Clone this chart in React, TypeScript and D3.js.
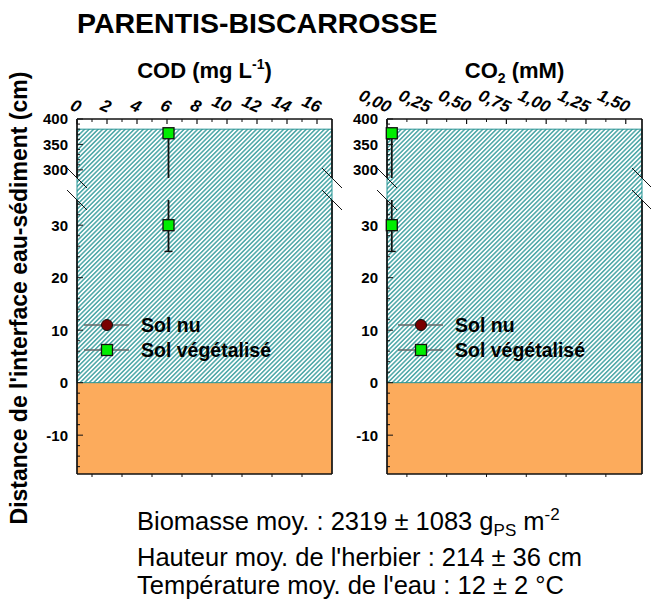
import React from "react";
import * as d3 from "d3";

// ---------- data ----------
const depths = [372, 30]; // cm above sediment
const codSolVeg = [6.1, 6.1];
const codSolNu = [6.1, 6.1];
const co2SolVeg = [0.03, 0.03];
const co2SolNu = [0.03, 0.03];
const errMinus = [100, 5];
const errPlus = [0, 5];
const waterTop = 380;
const codTicks = [0, 2, 4, 6, 8, 10, 12, 14, 16];
const codMinor = [1, 3, 5, 7, 9, 11, 13, 15];
const co2Ticks = [0, 0.25, 0.5, 0.75, 1.0, 1.25, 1.5];
const co2Minor = [0.125, 0.375, 0.625, 0.875, 1.125, 1.375];
const yLowerMajor = [-10, 0, 10, 20, 30];
const yUpperMajor = [300, 350, 400];
const legendLabels = ["Sol nu", "Sol végétalisé"];

const W = 651, H = 606;
const TOP = 119, BOT = 474;
const FONT = "'Liberation Sans', Arial, Helvetica, sans-serif";
const TEAL = "#259393";
const ORANGE = "#fcab5c";

const yUpper = d3.scaleLinear().domain([284, 400]).range([178, 119]);
const yLower = d3.scaleLinear().domain([-17.4, 34.8]).range([474, 200]);
const yPos = (v: number) => (v >= yUpper.domain()[0] ? yUpper(v) : yLower(v));

const xCOD = d3.scaleLinear().domain([0, 17]).range([77, 332]);
const xCO2 = d3.scaleLinear().domain([0, 1.602]).range([387, 642]);

const fmtComma = (d: number) => d3.format(".2f")(d).replace(".", ",");

type Panel = {
  x: d3.ScaleLinear<number, number>;
  ticks: number[];
  minor: number[];
  fmt: (d: number) => string;
  veg: number[];
  nu: number[];
  legendX: number;
  title: React.ReactNode;
};

const panels: Panel[] = [
  {
    x: xCOD, ticks: codTicks, minor: codMinor, fmt: (d) => String(d),
    veg: codSolVeg, nu: codSolNu, legendX: 107,
    title: (
      <>
        COD (mg L<tspan dy={-9} fontSize={14}>-1</tspan><tspan dy={9}>)</tspan>
      </>
    ),
  },
  {
    x: xCO2, ticks: co2Ticks, minor: co2Minor, fmt: fmtComma,
    veg: co2SolVeg, nu: co2SolNu, legendX: 421,
    title: (
      <>
        CO<tspan dy={5} fontSize={14}>2</tspan><tspan dy={-5}> (mM)</tspan>
      </>
    ),
  },
];

function range(a: number, b: number, s: number) {
  const out: number[] = [];
  for (let v = a; v <= b + 1e-9; v += s) out.push(v);
  return out;
}

function ErrorBars({ x, v, em, ep }: { x: number; v: number; em: number; ep: number }) {
  const segs = [yUpper, yLower];
  const out: React.ReactNode[] = [];
  segs.forEach((s, i) => {
    const [d0, d1] = s.domain();
    const lo = Math.max(v - em, d0);
    const hi = Math.min(v + ep, d1);
    if (hi <= lo) return;
    out.push(<line key={"l" + i} x1={x} x2={x} y1={s(lo)} y2={s(hi)} stroke="#111" strokeWidth={1.8} />);
    if (em > 0 && v - em > d0 && v - em < d1)
      out.push(<line key={"c1" + i} x1={x - 4} x2={x + 4} y1={s(v - em)} y2={s(v - em)} stroke="#111" strokeWidth={1.4} />);
    if (ep > 0 && v + ep < d1 && v + ep > d0)
      out.push(<line key={"c2" + i} x1={x - 4} x2={x + 4} y1={s(v + ep)} y2={s(v + ep)} stroke="#111" strokeWidth={1.4} />);
  });
  return <g>{out}</g>;
}

function PanelView({ p }: { p: Panel }) {
  const [x0, x1] = p.x.range();
  const upTop = yUpper.range()[1];
  const upBot = yUpper.range()[0];
  const loTop = yLower.range()[1];
  const cx = (x0 + x1) / 2;
  const lowerMinor = range(-16, 34, 2);
  const upperMinor = range(290, 400, 10);
  return (
    <g>
      <text x={cx} y={78} textAnchor="middle" fontWeight="bold" fontSize={22} fontFamily={FONT}>
        {p.title}
      </text>
      <rect x={x0} y={yLower(0)} width={x1 - x0} height={BOT - yLower(0)} fill={ORANGE} />
      <rect x={x0} y={yPos(waterTop)} width={x1 - x0} height={yLower(0) - yPos(waterTop)} fill="url(#hatch)" stroke={TEAL} strokeWidth={1} />
      <line x1={x0} x2={x1} y1={TOP} y2={TOP} stroke="#111" strokeWidth={1.7} />
      <line x1={x0} x2={x1} y1={BOT} y2={BOT} stroke="#111" strokeWidth={1.7} />
      {[x0, x1].map((xx, i) => (
        <g key={i}>
          <line x1={xx} x2={xx} y1={upTop} y2={upBot} stroke="#111" strokeWidth={1.7} />
          <line x1={xx} x2={xx} y1={loTop} y2={BOT} stroke="#111" strokeWidth={1.7} />
          <line x1={xx - 10} x2={xx + 10} y1={upBot - 10} y2={upBot + 10} stroke="#111" strokeWidth={1} />
          <line x1={xx - 10} x2={xx + 10} y1={loTop - 10} y2={loTop + 10} stroke="#111" strokeWidth={1} />
        </g>
      ))}
      {p.ticks.map((t) => (
        <g key={"t" + t}>
          <line x1={p.x(t)} x2={p.x(t)} y1={TOP} y2={TOP + 5} stroke="#111" strokeWidth={1.2} />
          <text
            transform={`translate(${p.x(t) + 1},${TOP - 6}) rotate(24)`}
            textAnchor="end" fontSize={17} fontWeight="bold" fontStyle="italic" fontFamily={FONT}
          >
            {p.fmt(t)}
          </text>
        </g>
      ))}
      {p.minor.map((t) => (
        <g key={"m" + t}>
          <line x1={p.x(t)} x2={p.x(t)} y1={TOP} y2={TOP + 3} stroke="#111" strokeWidth={1} />
          <line x1={p.x(t)} x2={p.x(t)} y1={BOT} y2={BOT + 3} stroke="#111" strokeWidth={1} />
        </g>
      ))}
      {lowerMinor.map((t) => (
        <line key={"ly" + t} x1={x0} x2={x0 + (t % 10 === 0 ? 6 : 3)} y1={yLower(t)} y2={yLower(t)} stroke="#111" strokeWidth={1} />
      ))}
      {upperMinor.map((t) => (
        <line key={"uy" + t} x1={x0} x2={x0 + (t % 50 === 0 ? 6 : 3)} y1={yUpper(t)} y2={yUpper(t)} stroke="#111" strokeWidth={1} />
      ))}
      {yLowerMajor.map((t) => (
        <text key={"lt" + t} x={x0 - 9} y={yLower(t)} dy="0.36em" textAnchor="end" fontSize={15} fontWeight="bold" fontFamily={FONT}>{t}</text>
      ))}
      {yUpperMajor.map((t) => (
        <text key={"ut" + t} x={x0 - 9} y={yUpper(t)} dy="0.36em" textAnchor="end" fontSize={15} fontWeight="bold" fontFamily={FONT}>{t}</text>
      ))}
      {depths.map((dv, i) => (
        <ErrorBars key={"e" + i} x={p.x(p.veg[i])} v={dv} em={errMinus[i]} ep={errPlus[i]} />
      ))}
      {depths.map((dv, i) => (
        <circle key={"c" + i} cx={p.x(p.nu[i])} cy={yPos(dv)} r={5} fill="#7a0000" stroke="#111" strokeWidth={1} />
      ))}
      {depths.map((dv, i) => (
        <rect key={"s" + i} x={p.x(p.veg[i]) - 5.5} y={yPos(dv) - 5.5} width={11} height={11} fill="#00ee00" stroke="#111" strokeWidth={1.3} />
      ))}
      {legendLabels.map((lab, i) => {
        const ly = 325 + i * 25;
        const lx = p.legendX;
        return (
          <g key={"lg" + i}>
            <line x1={lx - 23} x2={lx + 22} y1={ly} y2={ly} stroke="#666" strokeWidth={1.6} />
            {i === 0 ? (
              <circle cx={lx} cy={ly} r={5.5} fill="#7a0000" stroke="#111" strokeWidth={1} />
            ) : (
              <rect x={lx - 5.5} y={ly - 5.5} width={11} height={11} fill="#00ee00" stroke="#111" strokeWidth={1.3} />
            )}
            <text x={lx + 34} y={ly + 7} fontSize={19.5} fontWeight="bold" fontFamily={FONT}>{lab}</text>
          </g>
        );
      })}
    </g>
  );
}

export default function App() {
  return (
    <svg width={W} height={H} style={{ position: "absolute", left: 0, top: 0, background: "#fff" }}>
      <defs>
        <pattern id="hatch" width={3.2} height={3.2} patternUnits="userSpaceOnUse" patternTransform="rotate(45)">
          <rect width={3.2} height={3.2} fill="#fff" />
          <line x1={0.8} y1={0} x2={0.8} y2={3.2} stroke={TEAL} strokeWidth={1.25} />
        </pattern>
      </defs>
      <rect width={W} height={H} fill="#fff" />
      <text x={77} y={33} fontSize={28.5} fontWeight="bold" fontFamily={FONT}>PARENTIS-BISCARROSSE</text>
      <text transform="translate(27,298) rotate(-90)" textAnchor="middle" fontSize={23} fontWeight="bold" fontFamily={FONT}>
        Distance de l'interface eau-sédiment (cm)
      </text>
      {panels.map((p, i) => <PanelView key={i} p={p} />)}
      <g fontFamily={FONT} fontSize={25.5}>
        <text x={137} y={530}>
          Biomasse moy. : 2319 ± 1083 g<tspan dy={6} fontSize={17}>PS</tspan><tspan dy={-6}> m</tspan><tspan dy={-10} fontSize={17}>-2</tspan>
        </text>
        <text x={137} y={566}>Hauteur moy. de l'herbier : 214 ± 36 cm</text>
        <text x={137} y={594}>Température moy. de l'eau : 12 ± 2 °C</text>
      </g>
    </svg>
  );
}
